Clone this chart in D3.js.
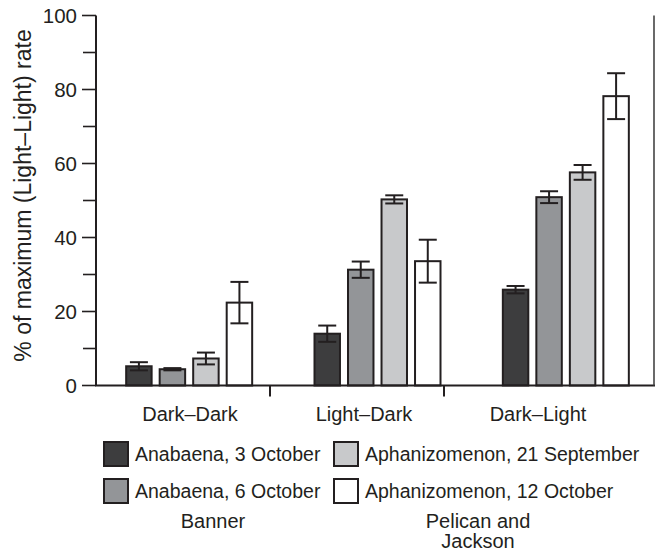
<!DOCTYPE html>
<html>
<head>
<meta charset="utf-8">
<script src="https://cdn.jsdelivr.net/npm/d3@7"></script>
<style>
  body { margin: 0; background: #fff; }
  svg text { font-family: "Liberation Sans", Arial, sans-serif; fill: #231f20; }
</style>
</head>
<body>
<div id="chart"></div>
<script>
// categories on the x axis
const categories = ['Dark\u2013Dark', 'Light\u2013Dark', 'Dark\u2013Light'];

// series, one value per category (% of maximum rate)
const seriesNames = [
  'Anabaena, 3 October',
  'Anabaena, 6 October',
  'Aphanizomenon, 21 September',
  'Aphanizomenon, 12 October'
];
const anabaena3Oct = [5.2, 14.0, 25.9];
const anabaena6Oct = [4.4, 31.3, 50.9];
const aphan21Sep = [7.3, 50.3, 57.6];
const aphan12Oct = [22.4, 33.6, 78.2];

// error bar half-widths
const anabaena3OctErr = [1.1, 2.2, 1.0];
const anabaena6OctErr = [0.3, 2.2, 1.6];
const aphan21SepErr = [1.6, 1.1, 2.0];
const aphan12OctErr = [5.6, 5.8, 6.2];

const majorTicks = [0, 20, 40, 60, 80, 100];
const minorTicks = [10, 30, 50, 70, 90];

const fills = ['#3d3d3e', '#939598', '#c8c9cb', '#ffffff'];
const ink = '#231f20';

const values = [anabaena3Oct, anabaena6Oct, aphan21Sep, aphan12Oct];
const errors = [anabaena3OctErr, anabaena6OctErr, aphan21SepErr, aphan12OctErr];

const rows = [];
categories.forEach((c, ci) => {
  seriesNames.forEach((s, si) => {
    rows.push({ cat: c, series: s, si, value: values[si][ci], err: errors[si][ci] });
  });
});

const width = 665;
const height = 554;
const plotLeft = 96, plotRight = 654, plotTop = 15.5, plotBottom = 385.5;

const svg = d3.select('#chart').append('svg')
  .attr('width', width)
  .attr('height', height);

const y = d3.scaleLinear().domain([0, 100]).range([plotBottom, plotTop]);

const x0 = d3.scaleBand().domain(categories).range([95, 660]);
const x1 = d3.scaleBand().domain(seriesNames).range([-63, 63]).paddingInner(0.24);

// label band (category names sit a bit left of the bar groups)
const xl = d3.scaleBand().domain(categories).range([103, 625]);

// bars
svg.append('g').selectAll('rect')
  .data(rows)
  .join('rect')
  .attr('x', d => x0(d.cat) + x0.bandwidth() / 2 + x1(d.series))
  .attr('y', d => y(d.value))
  .attr('width', x1.bandwidth())
  .attr('height', d => y(0) - y(d.value))
  .attr('fill', d => fills[d.si])
  .attr('stroke', ink)
  .attr('stroke-width', 2);

// error bars
const eg = svg.append('g').attr('stroke', ink).attr('stroke-width', 2);
rows.forEach(d => {
  const cx = x0(d.cat) + x0.bandwidth() / 2 + x1(d.series) + x1.bandwidth() / 2;
  const hi = y(d.value + d.err), lo = y(d.value - d.err);
  eg.append('line').attr('x1', cx).attr('x2', cx).attr('y1', hi).attr('y2', lo);
  eg.append('line').attr('x1', cx - 9).attr('x2', cx + 9).attr('y1', hi).attr('y2', hi);
  eg.append('line').attr('x1', cx - 9).attr('x2', cx + 9).attr('y1', lo).attr('y2', lo);
});

// y axis
const yAxis = svg.append('g').attr('transform', `translate(${plotLeft},0)`);
yAxis.append('line')
  .attr('x1', 0).attr('x2', 0).attr('y1', y(100)).attr('y2', y(0))
  .attr('stroke', ink).attr('stroke-width', 2);
yAxis.selectAll('.major')
  .data(majorTicks)
  .join('line')
  .attr('class', 'major')
  .attr('x1', -14).attr('x2', 0)
  .attr('y1', d => y(d)).attr('y2', d => y(d))
  .attr('stroke', ink).attr('stroke-width', 1.6);
yAxis.selectAll('.minor')
  .data(minorTicks)
  .join('line')
  .attr('class', 'minor')
  .attr('x1', -13).attr('x2', 0)
  .attr('y1', d => y(d)).attr('y2', d => y(d))
  .attr('stroke', ink).attr('stroke-width', 1.6);
yAxis.selectAll('text')
  .data(majorTicks)
  .join('text')
  .attr('x', -19)
  .attr('y', d => y(d))
  .attr('dy', '0.36em')
  .attr('text-anchor', 'end')
  .attr('font-size', 20.5)
  .text(d => d);

svg.append('text')
  .attr('transform', `translate(31,${(y(100) + y(0)) / 2 - 5}) rotate(-90)`)
  .attr('text-anchor', 'middle')
  .attr('font-size', 23)
  .text('% of maximum (Light\u2013Light) rate');

// x axis and right edge
svg.append('line')
  .attr('x1', plotLeft - 1).attr('x2', plotRight + 1).attr('y1', y(0)).attr('y2', y(0))
  .attr('stroke', ink).attr('stroke-width', 2.2);
svg.append('line')
  .attr('x1', plotRight).attr('x2', plotRight).attr('y1', y(100)).attr('y2', y(0))
  .attr('stroke', '#444').attr('stroke-width', 1.6);

// category dividers
svg.append('g').selectAll('line')
  .data(categories.slice(1))
  .join('line')
  .attr('x1', d => xl(d) - 7).attr('x2', d => xl(d) - 7)
  .attr('y1', y(0)).attr('y2', y(0) + 11)
  .attr('stroke', ink).attr('stroke-width', 2);

svg.append('g').selectAll('text')
  .data(categories)
  .join('text')
  .attr('x', d => xl(d) + xl.bandwidth() / 2)
  .attr('y', 421)
  .attr('text-anchor', 'middle')
  .attr('font-size', 20)
  .text(d => d);

// legend
const legendCols = [104, 334];
const legendRows = [454, 491];
const lg = svg.append('g');
seriesNames.forEach((s, i) => {
  const lx = legendCols[Math.floor(i / 2)];
  const ly = legendRows[i % 2];
  lg.append('rect')
    .attr('x', lx).attr('y', ly - 12)
    .attr('width', 24).attr('height', 24)
    .attr('fill', fills[i]).attr('stroke', ink).attr('stroke-width', 2);
  lg.append('text')
    .attr('x', lx + 31).attr('y', ly)
    .attr('dy', '0.36em')
    .attr('font-size', 19.5)
    .text(s);
});

const groupLabels = [
  { x: 213, lines: ['Banner'] },
  { x: 478, lines: ['Pelican and', 'Jackson'] }
];
groupLabels.forEach(g => {
  const t = svg.append('text')
    .attr('x', g.x).attr('y', 528)
    .attr('text-anchor', 'middle')
    .attr('font-size', 20);
  g.lines.forEach((l, i) => {
    t.append('tspan').attr('x', g.x).attr('dy', i === 0 ? 0 : 20).text(l);
  });
});
</script>
</body>
</html>
